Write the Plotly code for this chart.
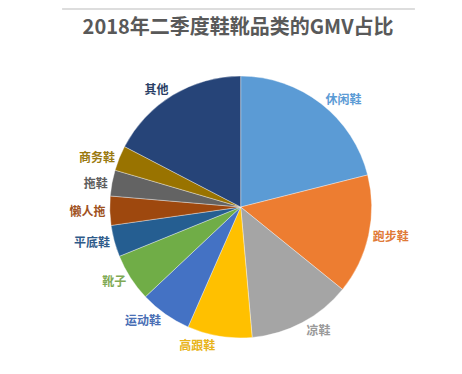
import plotly.graph_objects as go

categories = ["休闲鞋", "跑步鞋", "凉鞋", "高跟鞋", "运动鞋", "靴子", "平底鞋", "懒人拖", "拖鞋", "商务鞋", "其他"]
shares = [21.1, 14.8, 12.8, 8.0, 6.4, 5.9, 3.9, 3.6, 3.2, 3.1, 17.4]
colors = ["#5B9BD5", "#ED7D31", "#A5A5A5", "#FFC000", "#4472C4", "#70AD47",
          "#255E91", "#9E480E", "#636363", "#997300", "#264478"]
text_colors = ["#5B9BD5", "#E07A38", "#9A9A9A", "#E8B41A", "#4A6FB5", "#7FAA55",
               "#2F5B8A", "#A0521E", "#5E5E5E", "#9A7A10", "#2B3F66"]
title_text = "2018年二季度鞋靴品类的GMV占比"

fig = go.Figure(go.Pie(
    labels=categories,
    values=shares,
    sort=False,
    direction="clockwise",
    rotation=0,
    marker=dict(colors=colors, line=dict(color="rgba(255,255,255,0.6)", width=0.6)),
    texttemplate="<b>%{label}</b>",
    textposition="outside",
    outsidetextfont=dict(family="Noto Sans CJK SC", size=12, color=text_colors),
    hoverinfo="label+percent",
    domain=dict(x=[0.021, 0.993], y=[0.072, 0.856]),
    showlegend=False,
))

fig.update_layout(
    width=462, height=374,
    margin=dict(l=20, r=20, t=20, b=20),
    paper_bgcolor="white",
    plot_bgcolor="white",
    title=dict(text="<b>" + title_text + "</b>", x=0.498, xanchor="center", y=0.95, yanchor="middle",
               font=dict(family="Noto Sans CJK SC", size=20, color="#595959")),
    shapes=[
        dict(type="line", xref="paper", yref="paper", x0=-0.06, x1=1.06, y0=1.057, y1=1.057,
             line=dict(color="#DDDDDD", width=2)),
        dict(type="line", xref="paper", yref="paper", x0=-0.06, x1=1.06, y0=-0.054, y1=-0.054,
             line=dict(color="#DDDDDD", width=1.5)),
    ],
)

fig.write_html("out.html")
